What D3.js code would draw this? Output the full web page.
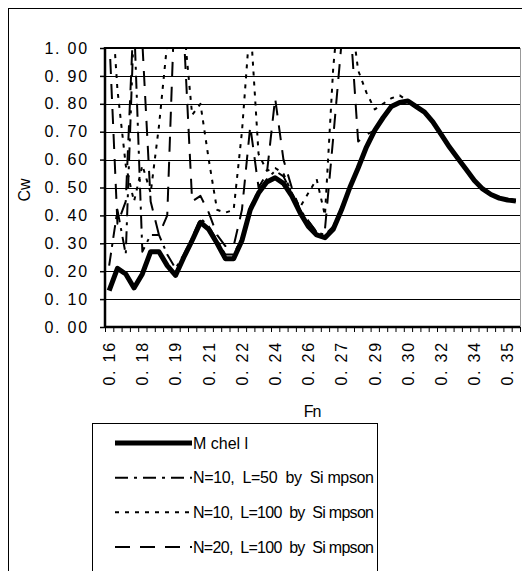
<!DOCTYPE html>
<html>
<head>
<meta charset="utf-8">
<script src="https://cdn.jsdelivr.net/npm/d3@7"></script>
<style>
    html, body { margin: 0; padding: 0; background: #fff; }
    svg { display: block; font-family: "Liberation Sans", Arial, sans-serif; }
</style>
</head>
<body>
<div id="chart"></div>
<script>
// Wave resistance Cw against Fn: Michell integral vs Simpson approximations

// ---------- Data ----------

// Fn categories (one per point on the category axis)
const fnValues = [
    0.160, 0.164, 0.168, 0.172, 0.176, 0.180, 0.184, 0.188, 0.192, 0.196,
    0.200, 0.204, 0.208, 0.212, 0.216, 0.220, 0.224, 0.228, 0.232, 0.236,
    0.240, 0.244, 0.248, 0.252, 0.256, 0.260, 0.264, 0.268, 0.272, 0.276,
    0.280, 0.284, 0.288, 0.292, 0.296, 0.300, 0.304, 0.308, 0.312, 0.316,
    0.320, 0.324, 0.328, 0.332, 0.336, 0.340, 0.344, 0.348, 0.352, 0.356
];

// Only every 4th category gets a label
const xTickLabels = ["0. 16", "0. 18", "0. 19", "0. 21", "0. 22", "0. 24", "0. 26",
    "0. 27", "0. 29", "0. 30", "0. 32", "0. 34", "0. 35"];

const yTicks = [0, 0.1, 0.2, 0.3, 0.4, 0.5, 0.6, 0.7, 0.8, 0.9, 1.0];
const yTickLabels = ["0. 00", "0. 10", "0. 20", "0. 30", "0. 40", "0. 50",
    "0. 60", "0. 70", "0. 80", "0. 90", "1. 00"];

const michell = [
    0.13, 0.21, 0.19, 0.14, 0.19, 0.27, 0.27, 0.22, 0.185, 0.25,
    0.31, 0.375, 0.35, 0.30, 0.245, 0.245, 0.31, 0.42, 0.48, 0.52,
    0.535, 0.515, 0.47, 0.41, 0.36, 0.33, 0.32, 0.35, 0.42, 0.50,
    0.57, 0.645, 0.705, 0.75, 0.79, 0.805, 0.81, 0.79, 0.77, 0.735,
    0.69, 0.645, 0.605, 0.565, 0.525, 0.495, 0.475, 0.462, 0.455, 0.452
];

// N=10, L=50
const simpsonN10L50 = [
    0.22, 0.42, 0.26, 1.10, 0.27, 0.33, 0.33, 0.26, 0.21, 0.26,
    0.32, 0.39, 0.36, 0.31, 0.26, 0.26, 0.32, 0.43, 0.49, 0.53,
    0.56, 0.54, 0.48, 0.42, 0.38, 0.34, 0.33, 0.36, 0.43, 0.50,
    0.575, 0.65, 0.71, 0.75, 0.79, 0.805, 0.81, 0.79, 0.77, 0.735,
    0.69, 0.645, 0.605, 0.565, 0.525, 0.495, 0.475, 0.462, 0.455, 0.452
];

// N=10, L=100
const simpsonN10L100 = [
    1.30, 0.85, 0.58, 0.45, 0.58, 0.48, 0.72, 1.02, 1.25, 1.08,
    0.76, 0.80, 0.60, 0.42, 0.41, 0.42, 0.70, 1.10, 0.62, 0.56,
    0.57, 0.55, 0.48, 0.43, 0.48, 0.53, 0.40, 0.93, 1.25, 1.15,
    0.92, 0.84, 0.78, 0.80, 0.82, 0.83, 0.81, 0.79, 0.77, 0.735,
    0.69, 0.645, 0.605, 0.565, 0.525, 0.495, 0.475, 0.462, 0.455, 0.452
];

// N=20, L=100
const simpsonN20L100 = [
    1.05, 0.37, 0.45, 1.15, 1.02, 0.45, 0.33, 0.40, 1.25, 1.05,
    0.45, 0.47, 0.41, 0.33, 0.29, 0.29, 0.42, 0.72, 0.50, 0.55,
    0.82, 0.60, 0.50, 0.42, 0.38, 0.34, 0.35, 0.68, 1.02, 1.11,
    0.665, 0.69, 0.705, 0.75, 0.79, 0.805, 0.81, 0.79, 0.77, 0.735,
    0.69, 0.645, 0.605, 0.565, 0.525, 0.495, 0.475, 0.462, 0.455, 0.452
];

const seriesNames = ["M chel l", "N=10,  L=50  by  Si mpson",
    "N=10,  L=100  by  Si mpson", "N=20,  L=100  by  Si mpson"];

// ---------- Chart setup ----------

const width = 522;
const height = 571;

const plot = { left: 105, right: 520, top: 48, bottom: 327 };

const svg = d3.select("#chart")
    .append("svg")
    .attr("width", width)
    .attr("height", height);

// outer chart frame
svg.append("rect")
    .attr("x", 8.5)
    .attr("y", 8.5)
    .attr("width", 530)
    .attr("height", 600)
    .attr("fill", "none")
    .attr("stroke", "#000")
    .attr("stroke-width", 1);

// category axis: index scale, tick marks sit between categories
const xScale = d3.scaleLinear()
    .domain([0, fnValues.length])
    .range([plot.left, plot.right]);

const yScale = d3.scaleLinear()
    .domain([0, 1])
    .range([plot.bottom, plot.top]);

// horizontal gridlines
svg.append("g")
    .selectAll("line")
    .data(yTicks.slice(1))
    .join("line")
    .attr("x1", plot.left)
    .attr("x2", plot.right)
    .attr("y1", d => Math.round(yScale(d)) + 0.5)
    .attr("y2", d => Math.round(yScale(d)) + 0.5)
    .attr("stroke", "#000")
    .attr("stroke-width", 1);

// right edge of plot area
svg.append("line")
    .attr("x1", plot.right + 0.5)
    .attr("x2", plot.right + 0.5)
    .attr("y1", plot.top)
    .attr("y2", plot.bottom)
    .attr("stroke", "#999");

// y axis
const yAxis = d3.axisLeft(yScale)
    .tickValues(yTicks)
    .tickSize(5)
    .tickFormat((d, i) => yTickLabels[i]);

const yAxisGroup = svg.append("g")
    .attr("transform", `translate(${plot.left}, 0)`)
    .call(yAxis);

yAxisGroup.select(".domain").remove();
yAxisGroup.selectAll(".tick line").attr("stroke", "#000").attr("stroke-width", 1.5);
yAxisGroup.selectAll(".tick text")
    .attr("x", -16)
    .attr("fill", "#000")
    .style("font-size", "16px")
    .style("letter-spacing", "1.8px")
    .style("font-family", "'Liberation Sans', Arial, sans-serif");

// x axis tick marks
const xAxis = d3.axisBottom(xScale)
    .tickValues(d3.range(fnValues.length + 1))
    .tickSize(5)
    .tickFormat("");

const xAxisGroup = svg.append("g")
    .attr("transform", `translate(0, ${plot.bottom})`)
    .call(xAxis);

xAxisGroup.select(".domain").remove();
xAxisGroup.selectAll(".tick line").attr("stroke", "#000").attr("stroke-width", 1);

// x tick labels, every 4th category, rotated
svg.append("g")
    .selectAll("text")
    .data(xTickLabels)
    .join("text")
    .attr("transform", (d, i) => `translate(${xScale(i * 4 + 0.5)}, 341) rotate(-90)`)
    .attr("text-anchor", "end")
    .attr("dy", "0.36em")
    .style("font-size", "16px")
    .style("letter-spacing", "1.8px")
    .text(d => d);

// axis lines
svg.append("line")
    .attr("x1", plot.left)
    .attr("x2", plot.left)
    .attr("y1", plot.top - 1)
    .attr("y2", plot.bottom + 1)
    .attr("stroke", "#000")
    .attr("stroke-width", 2.5);

svg.append("line")
    .attr("x1", plot.left)
    .attr("x2", plot.right)
    .attr("y1", plot.bottom)
    .attr("y2", plot.bottom)
    .attr("stroke", "#000")
    .attr("stroke-width", 2.5);

svg.append("line")
    .attr("x1", plot.left)
    .attr("x2", plot.right)
    .attr("y1", plot.top)
    .attr("y2", plot.top)
    .attr("stroke", "#000")
    .attr("stroke-width", 2);

// axis titles
svg.append("text")
    .attr("transform", "translate(24, 190) rotate(-90)")
    .attr("text-anchor", "middle")
    .attr("dy", "0.35em")
    .style("font-size", "16px")
    .text("Cw");

svg.append("text")
    .attr("x", 312)
    .attr("y", 417)
    .attr("text-anchor", "middle")
    .style("font-size", "16px")
    .style("letter-spacing", "-1px")
    .text("Fn");

// ---------- Lines ----------

svg.append("clipPath")
    .attr("id", "plotClip")
    .append("rect")
    .attr("x", plot.left)
    .attr("y", plot.top)
    .attr("width", plot.right - plot.left)
    .attr("height", plot.bottom - plot.top);

const lineGenerator = d3.line()
    .x((d, i) => xScale(i + 0.5))
    .y(d => yScale(d));

const seriesStyles = [
    { values: michell, width: 5, dash: null },
    { values: simpsonN10L50, width: 2, dash: "13,6,3,6" },
    { values: simpsonN10L100, width: 2, dash: "4,6" },
    { values: simpsonN20L100, width: 2, dash: "15,10" }
];

const lineGroup = svg.append("g").attr("clip-path", "url(#plotClip)");

// draw the Michell curve last so it sits on top
lineGroup.selectAll("path")
    .data(seriesStyles.slice(1).concat(seriesStyles.slice(0, 1)))
    .join("path")
    .attr("fill", "none")
    .attr("stroke", "#000")
    .attr("stroke-width", d => d.width)
    .attr("stroke-dasharray", d => d.dash)
    .attr("stroke-linejoin", "round")
    .attr("d", d => lineGenerator(d.values));

// ---------- Legend ----------

const legend = svg.append("g");

legend.append("rect")
    .attr("x", 92.5)
    .attr("y", 423.5)
    .attr("width", 285)
    .attr("height", 200)
    .attr("fill", "#fff")
    .attr("stroke", "#000");

const legendRow = d3.scaleLinear().domain([0, 3]).range([443, 547]);

const legendItems = legend.selectAll("g")
    .data(seriesStyles)
    .join("g")
    .attr("transform", (d, i) => `translate(0, ${legendRow(i)})`);

legendItems.append("line")
    .attr("x1", 115)
    .attr("x2", 192)
    .attr("stroke", "#000")
    .attr("stroke-width", d => d.width)
    .attr("stroke-dasharray", d => d.dash);

legendItems.append("text")
    .attr("x", 193)
    .attr("dy", "0.35em")
    .style("font-size", "16px")
    .style("white-space", "pre")
    .each(function (d, i) {
        // the Simpson entries are squeezed to fit inside the legend box
        if (i > 0) {
            d3.select(this)
                .attr("textLength", 181)
                .attr("lengthAdjust", "spacing");
        }
    })
    .text((d, i) => seriesNames[i]);
</script>
</body>
</html>
